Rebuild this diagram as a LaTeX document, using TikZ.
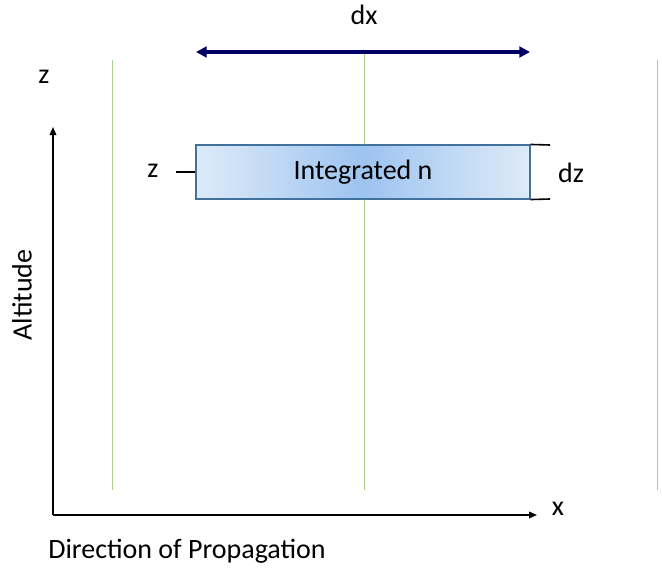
\documentclass[tikz,border=0pt]{standalone}
\usepackage{fontspec}
\setmainfont{Carlito}
\usetikzlibrary{arrows.meta}
\definecolor{gridgreen}{HTML}{A9D18E}
\definecolor{boxedge}{HTML}{41719C}
\definecolor{boxlight}{HTML}{DEEBF8}
\definecolor{boxdark}{HTML}{9DC3F0}
\definecolor{navy}{HTML}{000066}

\begin{document}
\begin{tikzpicture}[x=0.75pt,y=-0.75pt,
textnode/.style={inner sep=0pt, font=\fontsize{21}{25}\selectfont},
boxnode/.style={draw=boxedge, thick, minimum width=250.5pt, minimum height=40.5pt, inner sep=0pt,
  left color=boxlight, right color=boxlight, middle color=boxdark, font=\fontsize{21}{25}\selectfont},
gridline/.style={gridgreen, line width=0.55pt},
axisline/.style={black, line width=1pt, -{Triangle[length=6pt,width=5pt]}}
]
    \useasboundingbox (0,0) rectangle (662,571);

    % green guide lines
    \draw [gridline] (112,60) -- (112,490);
    \draw [gridline] (364,52) -- (364,490);
    \draw [gridline] (657,60) -- (657,490);

    % axes
    \coordinate (o) at (53,515);
    \coordinate (ztop) at (53,127);
    \coordinate (xend) at (537,515);
    \draw [axisline] (o) -- (ztop);
    \draw [axisline] (o) -- (xend);
    \node [textnode] (zl) at (44,77) {z};
    \node [textnode] (xl) at (558,509) {x};
    \node [textnode,rotate=90] (alt) at (22,295) {Altitude};
    \node [textnode] (dop) at (187,551) {Direction of Propagation};

    % layer
    \node [boxnode] (layer) at (363,172) {Integrated n};
    \node [textnode] (zc) at (153,171) {z};
    \coordinate (tick) at (176,172);
    \draw [line width=1pt] (tick) -- (layer.west);

    % dz bracket
    \coordinate (b1) at (550,145);
    \coordinate (b2) at (550,199);
    \draw [line width=1.2pt] (b1) -- (layer.north east);
    \draw [line width=1.2pt] (b2) -- (layer.south east);
    \node [textnode] (dz) at (571,173) {dz};

    % dx arrow
    \coordinate (d1) at (196,52);
    \coordinate (d2) at (530,52);
    \draw [navy, line width=3pt, {Triangle[length=8pt,width=8pt]}-{Triangle[length=8pt,width=8pt]}] (d1) -- (d2);
    \node [textnode] (dx) at (364,15) {dx};
\end{tikzpicture}
\end{document}
